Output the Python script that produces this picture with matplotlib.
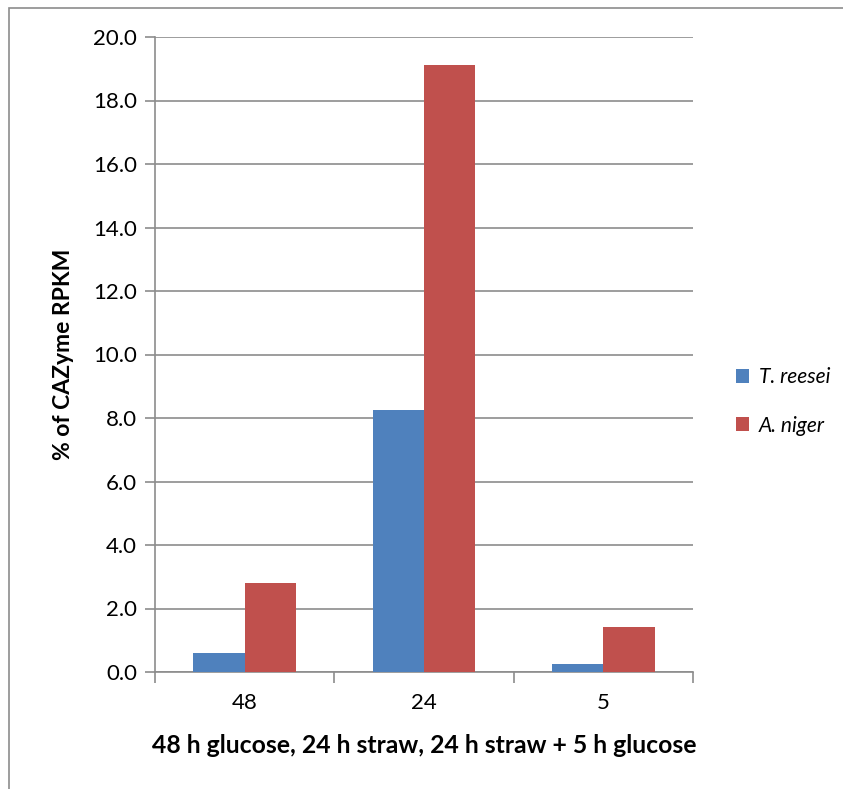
import matplotlib
matplotlib.use("Agg")
import matplotlib.pyplot as plt
from matplotlib.patches import Rectangle
import numpy as np

categories = ["48", "24", "5"]
series_names = ["T. reesei", "A. niger"]
t_reesei = [0.61, 8.25, 0.26]
a_niger = [2.79, 19.12, 1.43]
colors = ["#4F81BD", "#C0504D"]
yticks = [0, 2, 4, 6, 8, 10, 12, 14, 16, 18, 20]

plt.rcParams['font.family'] = ['Lato', 'DejaVu Sans']

W, H = 843, 789
fig = plt.figure(figsize=(W / 100, H / 100), dpi=100)

# outer chart frame
fig.patches.append(Rectangle((9 / W, -0.1), 1.2, (H - 8) / H + 0.1,
                             transform=fig.transFigure, fill=False,
                             edgecolor="#8c8c8c", linewidth=1.2))

ax = fig.add_axes([155 / W, (H - 672) / H, (693 - 155) / W, (672 - 37) / H])

x = np.arange(len(categories))
bw = 0.286
b1 = ax.bar(x - bw / 2, t_reesei, bw, color=colors[0], label=series_names[0], zorder=3)
b2 = ax.bar(x + bw / 2, a_niger, bw, color=colors[1], label=series_names[1], zorder=3)

ax.set_xlim(-0.5, len(categories) - 0.5)
ax.set_ylim(0, 20)
ax.set_yticks(yticks)
ax.set_yticklabels([f"{v:.1f}" for v in yticks], fontsize=16)
ax.yaxis.grid(True, color="#8c8c8c", linewidth=1.2, zorder=0)
ax.set_axisbelow(True)

ax.set_xticks(x)
ax.set_xticklabels(categories, fontsize=16)
ax.tick_params(axis="x", which="major", length=0, pad=15)
ax.set_xticks(np.arange(len(categories) + 1) - 0.5, minor=True)
ax.tick_params(axis="x", which="minor", length=8, width=1.2, color="#8c8c8c")
ax.tick_params(axis="y", length=7, width=1.2, color="#8c8c8c", pad=6)

for s in ["top", "right"]:
    ax.spines[s].set_visible(False)
for s in ["left", "bottom"]:
    ax.spines[s].set_color("#8c8c8c")
    ax.spines[s].set_linewidth(1.2)

ax.set_ylabel("% of CAZyme RPKM", fontsize=16.5, fontweight="bold", labelpad=14)
ax.set_xlabel("48 h glucose, 24 h straw, 24 h straw + 5 h glucose",
              fontsize=17.8, fontweight="bold", labelpad=15)

leg = fig.legend(handles=[b1, b2], labels=series_names, loc="center left",
                 bbox_to_anchor=(717 / W, 1 - 401.5 / H), frameon=False,
                 fontsize=15, handlelength=0.65, handleheight=0.65,
                 handletextpad=0.45, labelspacing=1.35)
for t in leg.get_texts():
    t.set_fontstyle("italic")

fig.savefig("out.png", dpi=100)
